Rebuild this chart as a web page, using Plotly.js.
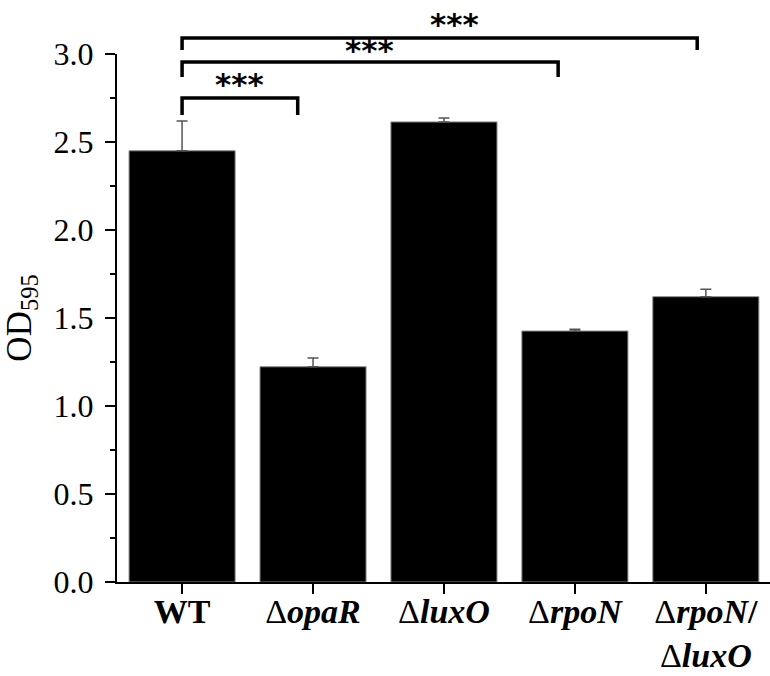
<!DOCTYPE html>
<html>
<head>
<meta charset="utf-8">
<script src="https://cdn.plot.ly/plotly-3.0.1.min.js"></script>
<style>html,body{margin:0;padding:0;background:#fff;}#chart{width:770px;height:676px;}</style>
</head>
<body>
<div id="chart"></div>
<script>
// Data
var strains = ["WT", "ΔopaR", "ΔluxO", "ΔrpoN", "ΔrpoN/ΔluxO"];
var tickLabels = ["<b>WT</b>", "Δ<b><i>opaR</i></b>", "Δ<b><i>luxO</i></b>", "Δ<b><i>rpoN</i></b>", "Δ<b><i>rpoN</i>/</b><br>Δ<b><i>luxO</i></b>"];
var od595 = [2.45, 1.223, 2.614, 1.426, 1.621];
var errUp = [0.17, 0.05, 0.022, 0.01, 0.042];
var errDown = [0, 0, 0, 0, 0];

// significance brackets
var sigFrom = [0, 0, 0];
var sigTo = [0.883, 2.872, 3.934];
var sigTop = [2.75, 2.955, 3.091];
var sigLeg = [2.653, 2.869, 3.023];
var sigLabelX = [0.442, 1.435, 2.077];
var sigLabelY = [2.83, 3.02, 3.17];
var sigText = ["***", "***", "***"];

var YMAX = 3.0;
var idx = strains.map(function(_, i){ return i; });

var trace = {
  type: "bar",
  x: idx,
  y: od595,
  width: 0.81,
  marker: {color: "#000000", line: {color: "#8a8a8a", width: 1}},
  error_y: {type: "data", symmetric: false, array: errUp, arrayminus: errDown,
            color: "#555555", thickness: 1.5, width: 5.5},
  hoverinfo: "skip"
};

var shapes = [];
var annotations = [];
for (var i = 0; i < sigFrom.length; i++) {
  var x0 = sigFrom[i], x1 = sigTo[i];
  var yt = sigTop[i] / YMAX, yl = sigLeg[i] / YMAX;
  shapes.push({
    type: "path", xref: "x", yref: "paper",
    path: "M " + x0 + "," + yl + " L " + x0 + "," + yt + " L " + x1 + "," + yt + " L " + x1 + "," + yl,
    line: {color: "#000", width: 3.5}
  });
  annotations.push({
    xref: "x", yref: "paper", x: sigLabelX[i], y: sigLabelY[i] / YMAX,
    text: "<b>" + sigText[i] + "</b>", showarrow: false, xanchor: "center", yanchor: "middle",
    font: {family: "DejaVu Sans", size: 31, color: "#000"}
  });
}

var layout = {
  width: 770, height: 676,
  margin: {l: 117, r: 0, t: 54, b: 94, pad: 0},
  paper_bgcolor: "#fff", plot_bgcolor: "#fff",
  showlegend: false,
  font: {family: "Liberation Serif", color: "#000"},
  xaxis: {
    range: [-0.497, 4.49],
    tickmode: "array", tickvals: idx, ticktext: tickLabels,
    showline: true, linecolor: "#000", linewidth: 2,
    ticks: "outside", ticklen: 10, tickwidth: 2, tickcolor: "#000",
    tickfont: {family: "Liberation Serif", size: 34, color: "#000"},
    ticklabelstandoff: -12,
    showgrid: false, zeroline: false, fixedrange: true
  },
  yaxis: {
    range: [0, YMAX],
    tickmode: "linear", tick0: 0, dtick: 0.5, tickformat: ".1f",
    showline: true, linecolor: "#000", linewidth: 2,
    ticks: "outside", ticklen: 10, tickwidth: 2, tickcolor: "#000",
    minor: {dtick: 0.25, ticks: "outside", ticklen: 5, tickwidth: 2, tickcolor: "#000", showgrid: false},
    tickfont: {family: "Liberation Serif", size: 32, color: "#000"},
    ticklabelstandoff: 5,
    showgrid: false, zeroline: false, fixedrange: true,
    title: {text: "OD<sub>595</sub>", font: {family: "Liberation Serif", size: 35, color: "#000"}, standoff: 12}
  },
  shapes: shapes,
  annotations: annotations
};

Plotly.newPlot("chart", [trace], layout, {staticPlot: true, displayModeBar: false});
</script>
</body>
</html>
